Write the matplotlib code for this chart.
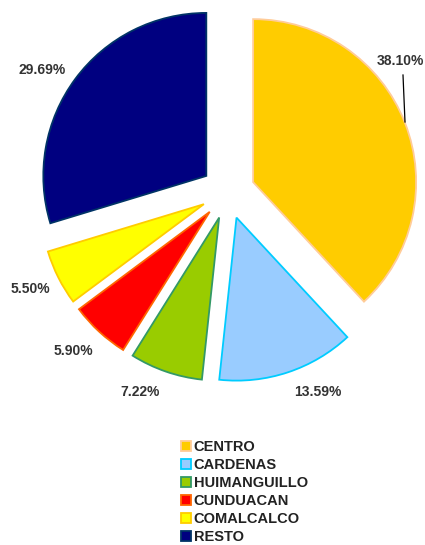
import matplotlib
import matplotlib.pyplot as plt

matplotlib.use('Agg')
plt.rcParams['font.family'] = ['Liberation Sans', 'DejaVu Sans']

municipios = ["CENTRO", "CARDENAS", "HUIMANGUILLO", "CUNDUACAN", "COMALCALCO", "RESTO"]
porcentajes = [38.10, 13.59, 7.22, 5.90, 5.50, 29.69]
colores = ["#FFCC00", "#99CCFF", "#99CC00", "#FF0000", "#FFFF00", "#000080"]
bordes = ["#FFCC99", "#00CCFF", "#339966", "#FF6600", "#FFCC00", "#003366"]

# label anchors in pixels (x from left, y from top)
pos_etiquetas = [(400, 61), (318, 392), (140, 392), (73, 351), (30, 289), (42, 70)]

W, H = 425, 545
RADIO = 163
SEPARACION = 27  # pie's explode is in data units here


def px(x, y):
    """Pixel coords (top-left origin) -> data coords."""
    return x, H - y


def main():
    fig = plt.figure(figsize=(W / 100, H / 100), dpi=100)
    ax = fig.add_axes([0, 0, 1, 1])

    wedges, _ = ax.pie(porcentajes, colors=colores, startangle=90, counterclock=False,
                       explode=[SEPARACION] * len(porcentajes), radius=RADIO, center=px(228, 192),
                       wedgeprops=dict(linewidth=1.3), frame=True)
    for w, ec in zip(wedges, bordes):
        w.set_edgecolor(ec)

    for (x, y), val in zip(pos_etiquetas, porcentajes):
        ax.text(*px(x, y), f"{val:.2f}%", ha='center', va='center', fontsize=10,
                fontweight='bold', color='#333333')

    # leader line for the big slice
    ax.plot([px(403, 75)[0], px(405, 122)[0]], [px(403, 75)[1], px(405, 122)[1]],
            color='black', lw=0.9)

    ax.set_xlim(0, W)
    ax.set_ylim(0, H)
    ax.set_aspect('equal')
    ax.axis('off')

    ax.legend(wedges, municipios, loc='upper left', bbox_to_anchor=(181 / W, 1 - 440 / H),
              bbox_transform=fig.transFigure, frameon=False, borderpad=0, borderaxespad=0,
              handlelength=0.68, handleheight=0.68, handletextpad=0.2, labelspacing=0.28,
              prop=dict(size=10.5, weight='bold'), labelcolor='#222222')

    fig.savefig("out.png", dpi=100)


if __name__ == "__main__":
    main()
